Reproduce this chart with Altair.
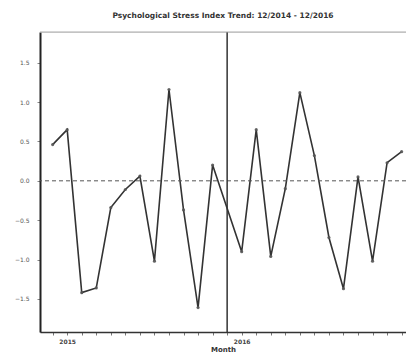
import altair as alt
import pandas as pd

# Monthly standardized index; month 0 = Dec 2014, month 24 = Dec 2016 (Dec 2015 not observed)
month_index = [0, 1, 2, 3, 4, 5, 6, 7, 8, 9, 10, 11,
               13, 14, 15, 16, 17, 18, 19, 20, 21, 22, 23, 24]
index_values = [0.46, 0.65, -1.42, -1.36, -0.34, -0.11, 0.06, -1.02, 1.16, -0.37, -1.61, 0.20,
                -0.90, 0.65, -0.96, -0.10, 1.12, 0.32, -0.72, -1.37, 0.05, -1.02, 0.23, 0.37]
y_ticks = [-1.5, -1.0, -0.5, 0.0, 0.5, 1.0, 1.5]
year_ticks = {1: "2015", 13: "2016"}
break_month = 12
mean_level = 0.0

X_DOMAIN = [-0.87, 24.3]
Y_DOMAIN = [-1.92, 1.89]

df = pd.DataFrame({"month": month_index, "value": index_values})

label_expr = " : ".join(
    f"datum.value == {k} ? '{v}'" for k, v in year_ticks.items()
) + " : ''"

x_enc = alt.X(
    "month:Q",
    scale=alt.Scale(domain=X_DOMAIN, nice=False, zero=False),
    axis=alt.Axis(
        title="Month", values=list(range(0, 25)), labelExpr=label_expr,
        labelOverlap=False, labelBound=False, labelFlush=False,
        grid=False, tickSize=3, tickColor="#777", domainColor="#333", domainWidth=1.5,
        labelFontSize=6, labelColor="#444", labelFont="DejaVu Sans", labelFontWeight="bold",
        titleFontSize=7, titleFont="DejaVu Sans", titleColor="#333", titlePadding=1,
        labelPadding=3,
    ),
)
y_enc = alt.Y(
    "value:Q",
    scale=alt.Scale(domain=Y_DOMAIN, nice=False, zero=False),
    axis=alt.Axis(
        title=None, values=y_ticks, format=".1f", grid=False, tickSize=3,
        labelOverlap=False,
        tickColor="#888", domainColor="#222", domainWidth=2,
        labelFontSize=6, labelColor="#555", labelFont="DejaVu Sans", labelPadding=8,
    ),
)

base = alt.Chart(df)

line = base.mark_line(color="#333333", strokeWidth=1.6).encode(x=x_enc, y=y_enc)
points = base.mark_point(shape="circle", size=10, color="#555555", filled=True, opacity=0.9).encode(
    x=x_enc, y=y_enc
)

mean_rule = alt.Chart(pd.DataFrame({"value": [mean_level]})).mark_rule(
    color="#555555", strokeDash=[4, 3], strokeWidth=1
).encode(y=y_enc)

break_rule = alt.Chart(pd.DataFrame({"month": [break_month]})).mark_rule(
    color="#333333", strokeWidth=1.5
).encode(x=x_enc)

top_border = alt.Chart(pd.DataFrame({"value": [Y_DOMAIN[1]]})).mark_rule(
    color="#aaaaaa", strokeWidth=1
).encode(y=y_enc)

chart = (
    alt.layer(line, points, mean_rule, break_rule, top_border)
    .properties(
        width=366,
        height=300,
        title=alt.TitleParams(
            "Psychological Stress Index Trend: 12/2014 - 12/2016",
            fontSize=7.5, font="DejaVu Sans", fontWeight="bold", color="#333333",
            anchor="middle", offset=12,
        ),
        padding={"left": 40, "top": 32, "right": 0, "bottom": 23},
        autosize=alt.AutoSizeParams(type="none"),
    )
    .configure_view(stroke=None)
    .configure(background="white")
)

chart.save("out.html", embed_options={"renderer": "svg", "actions": False})
